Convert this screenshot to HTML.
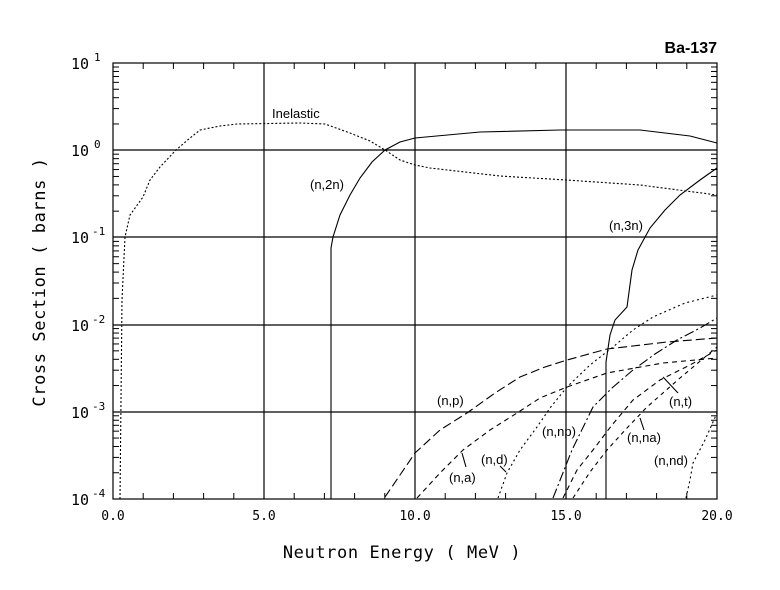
<!DOCTYPE html>
<html><head><meta charset="utf-8"><style>
body{margin:0;background:#fff;width:780px;height:590px;overflow:hidden}
svg{display:block}
text{font-family:"Liberation Sans",sans-serif;fill:#000}
.m{font-family:"DejaVu Sans Mono","Liberation Mono",monospace}
</style></head><body>
<svg id="s" width="780" height="590" viewBox="0 0 780 590" xmlns="http://www.w3.org/2000/svg">
<g stroke="#000" stroke-width="1.2" fill="none">
<rect x="113" y="63" width="604" height="436"/>
<line x1="264" y1="63" x2="264" y2="499"/><line x1="415" y1="63" x2="415" y2="499"/><line x1="566" y1="63" x2="566" y2="499"/>
<line x1="113" y1="150" x2="717" y2="150"/><line x1="113" y1="237" x2="717" y2="237"/><line x1="113" y1="325" x2="717" y2="325"/><line x1="113" y1="412" x2="717" y2="412"/>
</g>
<g id="ticks" stroke="#000" stroke-width="1"></g>
<g fill="none" stroke="#000" stroke-width="1.1">
<polyline stroke-dasharray="2,2" points="120,499 121,400 122,300 125,237 130,215 143,197 150,180 160,167 176,150 190,138 200,130 220,126 237,124 300,123 325,124 350,133 370,141 385,150 400,160 415,165 430,168 500,176 566,180 640,185 717,195"/>
<polyline points="331,499 331,248 333,237 340,215 350,195 360,178 372,162 385,150 400,142 415,138 480,132 560,130 640,130 690,136 717,143"/>
<polyline points="606,499 606,362 610,335 615,320 627,307 632,270 638,250 650,228 665,210 680,195 700,180 717,168"/>
<polyline stroke-dasharray="9,4" points="385,497 400,475 415,453 440,430 467,413 495,393 520,377 545,367 567,360 607,349 667,342 717,338"/>
<polyline stroke-dasharray="5,4" points="417,498 440,473 463,450 490,430 517,413 540,398 567,387 607,373 663,363 717,358"/>
<polyline stroke-dasharray="2,3" points="498,498 507,473 520,450 537,427 550,408 567,387 590,365 613,347 633,330 653,317 685,303 717,295"/>
<polyline stroke-dasharray="10,3,2,3" points="553,498 572,450 593,407 612,388 633,370 655,354 677,340 700,328 717,318"/>
<polyline stroke-dasharray="5,4" points="563,498 577,470 593,450 612,425 633,400 660,380 690,365 717,350"/>
<polyline stroke-dasharray="4,4" points="573,498 590,472 607,450 627,428 647,407 680,378 717,347"/>
<polyline stroke-dasharray="2,3" points="686,498 690,480 693,463 705,440 717,413"/>
<line x1="462" y1="453" x2="466" y2="467"/><line x1="500" y1="466" x2="506" y2="472"/><line x1="663" y1="377" x2="678" y2="393"/><line x1="640" y1="418" x2="644" y2="430"/>
</g>
<g font-size="13">
<text x="272" y="118">Inelastic</text>
<text x="310" y="189">(n,2n)</text>
<text x="609" y="230">(n,3n)</text>
<text x="437" y="405">(n,p)</text>
<text x="449" y="482">(n,a)</text>
<text x="481" y="464">(n,d)</text>
<text x="542" y="436">(n,np)</text>
<text x="627" y="442">(n,na)</text>
<text x="669" y="406">(n,t)</text>
<text x="654" y="465">(n,nd)</text>
</g>
<text x="717" y="53" font-size="16" font-weight="bold" text-anchor="end">Ba-137</text>
<g class="m" font-size="13">
<text class="m" x="113" y="520" text-anchor="middle">0.0</text>
<text class="m" x="264" y="520" text-anchor="middle">5.0</text>
<text class="m" x="415" y="520" text-anchor="middle">10.0</text>
<text class="m" x="566" y="520" text-anchor="middle">15.0</text>
<text class="m" x="717" y="520" text-anchor="middle">20.0</text>
</g>
<g font-size="15">
<text class="m" x="71" y="69">10</text><text class="m" x="94" y="61" font-size="11">1</text>
<text class="m" x="71" y="156">10</text><text class="m" x="94" y="148" font-size="11">0</text>
<text class="m" x="71" y="243">10</text><text class="m" x="92" y="235" font-size="11">-1</text>
<text class="m" x="71" y="331">10</text><text class="m" x="92" y="323" font-size="11">-2</text>
<text class="m" x="71" y="418">10</text><text class="m" x="92" y="410" font-size="11">-3</text>
<text class="m" x="71" y="505">10</text><text class="m" x="92" y="497" font-size="11">-4</text>
</g>
<text class="m" x="402" y="558" font-size="17" text-anchor="middle" letter-spacing="0.6">Neutron Energy ( MeV )</text>
<text class="m" x="0" y="0" font-size="17" text-anchor="middle" letter-spacing="0.6" transform="translate(45,282) rotate(-90)">Cross Section ( barns )</text>
</svg>
<script>
var g=document.getElementById('ticks'),h='';
for(var i=1;i<20;i++){var x=113+30.2*i;h+='<line x1="'+x+'" y1="499" x2="'+x+'" y2="493"/><line x1="'+x+'" y1="63" x2="'+x+'" y2="69"/>';}
for(var d=0;d<5;d++){for(var k=2;k<10;k++){var y=499-87.2*(d+Math.log10(k));h+='<line x1="113" y1="'+y+'" x2="119" y2="'+y+'"/><line x1="717" y1="'+y+'" x2="711" y2="'+y+'"/>';}}
g.innerHTML=h;
</script>
</body></html>
